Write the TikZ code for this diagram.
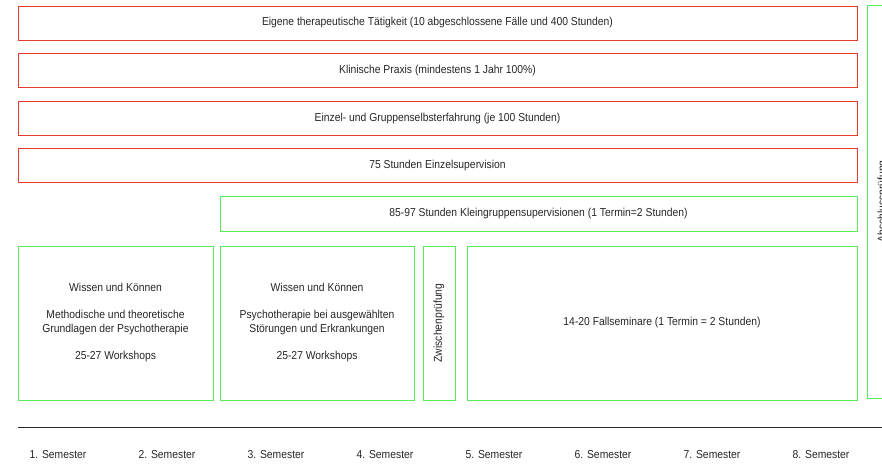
\documentclass[tikz,border=0pt]{standalone}
\usepackage{fontspec}
\setmainfont{Liberation Sans}[FakeStretch=0.9]
\definecolor{boxred}{RGB}{232,58,42}
\definecolor{boxgreen}{RGB}{90,235,90}
\definecolor{axisgray}{RGB}{40,40,40}
\begin{document}
\begin{tikzpicture}[
    x = 1pt,
    y = -1pt,
    every node/.style = {font=\fontsize{11.5}{14}\selectfont, text=black!85},
    redbox/.style = {rectangle, draw=boxred, line width=0.8pt,
    minimum width=839pt, minimum height=34pt, inner sep=0pt, outer sep=0pt},
    greenbox/.style = {rectangle, draw=boxgreen, line width=0.8pt,
    inner sep=0pt, outer sep=0pt, align=center},
    semester/.style = {inner sep=0pt},
]

\clip (0,0) rectangle (882,465);
\useasboundingbox (0,0) rectangle (882,465);

% rows across all semesters
\node[redbox] (taetigkeit) at (437.5,23){Eigene therapeutische Tätigkeit (10 abgeschlossene Fälle und 400 Stunden)};
\node[redbox] (praxis) at (437.5,70.5){Klinische Praxis (mindestens 1 Jahr 100\%)};
\node[redbox] (selbsterfahrung) at (437.5,118.5){Einzel- und Gruppenselbsterfahrung (je 100 Stunden)};
\node[redbox] (einzelsup) at (437.5,165.5){75 Stunden Einzelsupervision};
\node[greenbox, minimum width=637pt, minimum height=35pt] (gruppensup) at (538.5,213.5){85-97 Stunden Kleingruppensupervisionen (1 Termin=2 Stunden)};

% blocks
\node[greenbox, minimum width=195pt, minimum height=154pt] (wissen_a) at (115.5,323){Wissen und Können\\[13pt]Methodische und theoretische\\Grundlagen der Psychotherapie\\[13pt]25-27 Workshops};
\node[greenbox, minimum width=194pt, minimum height=154pt] (wissen_b) at (317,323){Wissen und Können\\[13pt]Psychotherapie bei ausgewählten\\Störungen und Erkrankungen\\[13pt]25-27 Workshops};
\node[greenbox, minimum width=32pt, minimum height=154pt] (zwischen) at (439,323){};
\node[rotate=90] (zwischen_text) at (zwischen.center){Zwischenprüfung};
\node[greenbox, minimum width=390pt, minimum height=154pt] (fallseminare) at (662,323){14-20 Fallseminare (1 Termin = 2 Stunden)};
\node[greenbox, minimum width=32pt, minimum height=393pt] (abschluss) at (883,201.5){};
\node[rotate=90] (abschluss_text) at (abschluss.center){Abschlussprüfung};

% time axis
\draw [axisgray, line width=0.9pt] (18,427) -- (890,427);
\foreach \i in {1,...,8}
    \node[semester] (sem\i) at (58+109*\i-109,455){\i. Semester};

\end{tikzpicture}
\end{document}
